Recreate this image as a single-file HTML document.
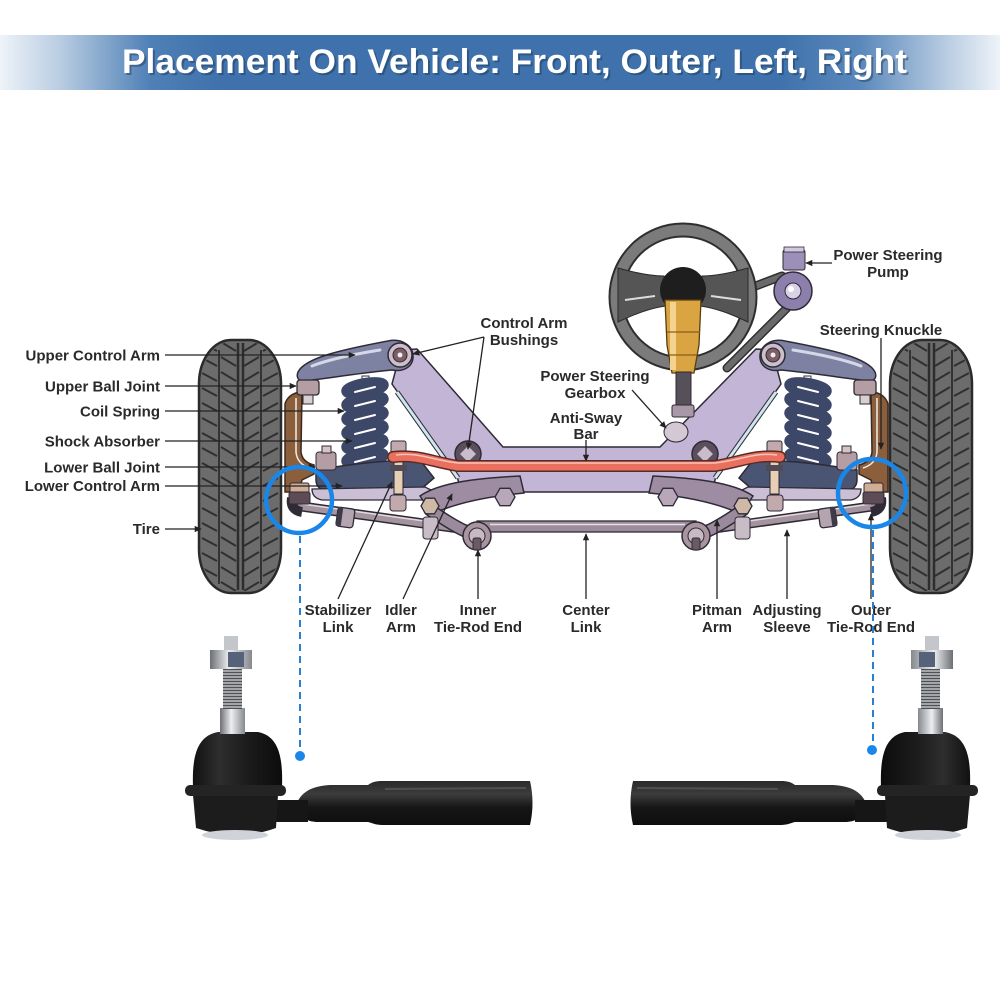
<!DOCTYPE html>
<html><head><meta charset="utf-8"><style>
html,body{margin:0;padding:0;background:#fff;}
svg{display:block;}
.lb{font-family:"Liberation Sans",Arial,sans-serif;font-weight:bold;font-size:15px;fill:#2a2a2a;}
</style></head><body>
<svg width="1000" height="1000" viewBox="0 0 1000 1000" xmlns="http://www.w3.org/2000/svg">
<defs>
<linearGradient id="ban" x1="0" y1="0" x2="1" y2="0">
<stop offset="0" stop-color="#eef3f8"/><stop offset="0.06" stop-color="#b9cde2"/><stop offset="0.15" stop-color="#4f80b6"/><stop offset="0.22" stop-color="#3f72ac"/><stop offset="0.78" stop-color="#3f72ac"/><stop offset="0.86" stop-color="#5a88bb"/><stop offset="0.95" stop-color="#bccfe3"/><stop offset="1" stop-color="#eef3f8"/>
</linearGradient>
<linearGradient id="silver" x1="0" y1="0" x2="1" y2="0">
<stop offset="0" stop-color="#6c6f74"/><stop offset="0.45" stop-color="#eceef1"/><stop offset="1" stop-color="#85888d"/>
</linearGradient>
<linearGradient id="blk" x1="0" y1="0" x2="0" y2="1">
<stop offset="0" stop-color="#2a2a2a"/><stop offset="0.3" stop-color="#3c3c3c"/><stop offset="0.6" stop-color="#161616"/><stop offset="1" stop-color="#0e0e0e"/>
</linearGradient>
<linearGradient id="dome" x1="0" y1="0" x2="1" y2="0">
<stop offset="0" stop-color="#111"/><stop offset="0.3" stop-color="#2e2e2e"/><stop offset="0.6" stop-color="#1c1c1c"/><stop offset="1" stop-color="#0c0c0c"/>
</linearGradient>
<pattern id="thr" x="0" y="667" width="10" height="3" patternUnits="userSpaceOnUse">
<rect width="10" height="3" fill="#a3a5a8"/><rect y="2" width="10" height="1" fill="#4e5053"/>
</pattern>
<pattern id="tread" x="199" y="340" width="82" height="15" patternUnits="userSpaceOnUse">
<path d="M3,3 L18,11 M22,2 L37,11 M79,3 L64,11 M60,2 L45,11" stroke="#2f2f2f" stroke-width="2" fill="none"/>
</pattern>
<marker id="ah" viewBox="0 0 10 10" refX="9" refY="5" markerWidth="9" markerHeight="7" markerUnits="userSpaceOnUse" orient="auto">
<path d="M0,0.5 L10,5 L0,9.5 Z" fill="#222"/>
</marker>

<g id="tire">
<rect x="199" y="340" width="82" height="253" rx="32" ry="44" fill="#6c6c6c" stroke="#2b2b2b" stroke-width="2.5"/>
<rect x="201" y="342" width="78" height="249" rx="30" ry="42" fill="url(#tread)"/>
<line x1="238" y1="343" x2="238" y2="590" stroke="#2d2d2d" stroke-width="2.5"/>
<line x1="243" y1="343" x2="243" y2="590" stroke="#2d2d2d" stroke-width="2.5"/>
<line x1="219" y1="350" x2="219" y2="584" stroke="#333" stroke-width="2"/>
<line x1="261" y1="350" x2="261" y2="584" stroke="#333" stroke-width="2"/>
</g>

<g id="susp">
 <path d="M285,404 Q288,394 300,392 L302,392 L301,452 Q302,462 314,465 L314,474 L302,480 L299,492 L285,492 Z" fill="#8b5e3c" stroke="#3b2a20" stroke-width="1.5"/>
 <path d="M296,398 L296,452 Q297,464 310,468" stroke="#f3efe8" stroke-width="1.5" fill="none"/>
 <path d="M298,372 C305,358 340,350 388,341 C402,338 414,346 413,358 C412,368 402,372 392,370 C360,373 330,378 304,381 C298,381 296,377 298,372 Z" fill="#7d82a2" stroke="#2f2a36" stroke-width="1.5"/>
 <path d="M312,366 C330,359 355,354 380,350" stroke="#d5d8e6" stroke-width="3" fill="none" stroke-linecap="round"/>
 <circle cx="400" cy="355" r="12" fill="#cdbfc9" stroke="#2f2a36" stroke-width="1.5"/>
 <circle cx="400" cy="355" r="7" fill="#7d5e66" stroke="#2f2a36"/>
 <circle cx="400" cy="355" r="2.5" fill="#eee"/>
 <rect x="297" y="380" width="22" height="15" rx="3" fill="#b59ea3" stroke="#2f2a36" stroke-width="1.3"/>
 <rect x="303" y="395" width="10" height="9" fill="#d7cfd2" stroke="#2f2a36"/>
 <rect x="362" y="376" width="7" height="34" fill="#f2f2f6" stroke="#3a3a44"/>
 <rect x="356" y="408" width="19" height="58" fill="#efb04b" stroke="#5c3d12" stroke-width="1.3"/>
 <rect x="360" y="410" width="4" height="54" fill="#fde2a8"/>
 <g fill="none" stroke="#3d4868" stroke-width="10">
  <ellipse cx="365" cy="388" rx="19" ry="5" transform="rotate(-10 365 388)"/>
  <ellipse cx="365" cy="402" rx="19" ry="5" transform="rotate(-10 365 402)"/>
  <ellipse cx="365" cy="416" rx="19" ry="5" transform="rotate(-10 365 416)"/>
  <ellipse cx="365" cy="430" rx="19" ry="5" transform="rotate(-10 365 430)"/>
  <ellipse cx="365" cy="444" rx="19" ry="5" transform="rotate(-10 365 444)"/>
  <ellipse cx="365" cy="458" rx="19" ry="5" transform="rotate(-10 365 458)"/>
 </g>
 <g fill="none" stroke="#ffffff" stroke-width="2" stroke-linecap="round">
  <path d="M355,392 L375,387"/><path d="M355,406 L375,401"/><path d="M355,420 L375,415"/>
  <path d="M355,434 L375,429"/><path d="M355,448 L375,443"/><path d="M355,462 L375,457"/>
 </g>
 <path d="M316,470 C345,465 385,460 420,460 L434,478 L420,490 L330,492 Q316,490 316,480 Z" fill="#4a5473" stroke="#2f2a36" stroke-width="1.5"/>
 <path d="M312,489 L425,487 L445,497 L435,500 L322,500 Q312,498 312,489 Z" fill="#cbbfd6" stroke="#2f2a36" stroke-width="1.3"/>
 <rect x="316" y="452" width="20" height="18" rx="3" fill="#b59ea3" stroke="#2f2a36"/>
 <rect x="322" y="446" width="9" height="7" fill="#d6c3c6" stroke="#2f2a36"/>
 <circle cx="468" cy="454" r="13" fill="#5b4f5e" stroke="#2f2a36" stroke-width="1.5"/>
 <path d="M468,446 L476,454 L468,462 L460,454 Z" fill="#c9bccb"/>
 <rect x="394" y="454" width="9" height="40" fill="#e6cfb2" stroke="#2f2a36"/>
 <rect x="391" y="441" width="15" height="13" rx="2" fill="#c2a9ad" stroke="#2f2a36"/>
 <rect x="390" y="465" width="17" height="6" fill="#4f4a55"/>
 <rect x="390" y="495" width="16" height="16" rx="3" fill="#c2a9ad" stroke="#2f2a36"/>
 <path d="M420,496 C440,482 480,478 520,476 L524,493 C492,496 458,502 432,514 Z" fill="#9e8ca3" stroke="#2f2a36" stroke-width="1.5"/>
 <polygon points="515,497 510,505.7 500,505.7 495,497 500,488.3 510,488.3" fill="#b7a7b9" stroke="#2f2a36" stroke-width="1.3"/>
 <path d="M298,506 L470,530" stroke="#2f2a36" stroke-width="10" stroke-linecap="round"/>
 <path d="M298,506 L470,530" stroke="#a4949f" stroke-width="7" stroke-linecap="round"/>
 <path d="M302,504 L468,527" stroke="#e2d9e0" stroke-width="1.5"/>
 <path d="M292,498 Q290,510 302,512" stroke="#2f2a36" stroke-width="10" fill="none"/>
 <rect x="290" y="483" width="19" height="10" rx="2" fill="#cfae95" stroke="#2f2a36"/>
 <rect x="289" y="492" width="21" height="12" rx="2" fill="#5d4c55" stroke="#2f2a36"/>
 <g transform="rotate(8 345 517)"><rect x="337" y="508" width="17" height="19" rx="3" fill="#b3a4b0" stroke="#2f2a36" stroke-width="1.3"/><rect x="337" y="508" width="5" height="19" fill="#3f3a48"/></g>
 <path d="M430,510 C445,520 460,530 477,536" stroke="#2f2a36" stroke-width="13" fill="none" stroke-linecap="round"/>
 <path d="M430,510 C445,520 460,530 477,536" stroke="#9a8a9c" stroke-width="10" fill="none" stroke-linecap="round"/>
 <rect x="423" y="517" width="15" height="22" rx="3" fill="#c8bcc6" stroke="#2f2a36"/>
 <polygon points="439,506 434.5,513.8 425.5,513.8 421,506 425.5,498.2 434.5,498.2" fill="#cdb9a6" stroke="#2f2a36" stroke-width="1.3"/>
 <circle cx="477" cy="536" r="14" fill="#a8959f" stroke="#2f2a36" stroke-width="1.5"/>
 <circle cx="477" cy="536" r="8" fill="#c9b9c3" stroke="#2f2a36"/>
 <rect x="473" y="538" width="8" height="12" rx="2" fill="#6a5a64" stroke="#2f2a36"/>
</g>

<g id="tre">
 <path d="M296,806 C300,792 312,786 330,785 L368,785 C372,782 376,781 382,781 L530,781 Q535,803 530,825 L382,825 C376,825 372,823 368,822 L318,822 C308,822 300,818 296,806 Z" fill="url(#blk)"/>
 <path d="M385,789 L526,788" stroke="#505050" stroke-width="2"/>
 <rect x="266" y="800" width="42" height="22" fill="#161616"/>
 <path d="M193,795 L278,795 L276,828 Q237,842 196,828 Z" fill="#1c1c1c"/>
 <ellipse cx="235" cy="835" rx="33" ry="5" fill="#cfd2d8"/>
 <path d="M193,787 C192,758 196,736 218,732 L258,732 C279,736 283,758 282,787 Z" fill="url(#dome)"/>
 <rect x="185" y="785" width="101" height="11" rx="5" fill="#242424"/>
 <rect x="220" y="708" width="25" height="26" fill="url(#silver)"/>
 <rect x="223" y="667" width="19" height="42" fill="url(#thr)"/>
 <path d="M210,650 L252,650 L252,669 L210,669 Z" fill="url(#silver)"/>
 <rect x="228" y="652" width="16" height="15" fill="#56627a"/>
 <rect x="224" y="636" width="14" height="14" fill="#c3c6cb"/>
</g>
</defs>

<rect width="1000" height="1000" fill="#fff"/>

<!-- banner -->
<rect x="0" y="35" width="1000" height="55" fill="url(#ban)"/>
<text x="124" y="75" textLength="785" lengthAdjust="spacingAndGlyphs" style="font-family:'Liberation Sans',Arial,sans-serif;font-weight:bold;font-size:34px;fill:#1c3450;opacity:0.45">Placement On Vehicle: Front, Outer, Left, Right</text>
<text x="122" y="73" textLength="785" lengthAdjust="spacingAndGlyphs" style="font-family:'Liberation Sans',Arial,sans-serif;font-weight:bold;font-size:34px;fill:#ffffff">Placement On Vehicle: Front, Outer, Left, Right</text>

<!-- steering wheel / pump -->
<path d="M740,292 L782,276" stroke="#2f2f2f" stroke-width="9" stroke-linecap="round"/>
<path d="M740,292 L782,276" stroke="#6a6a6a" stroke-width="6" stroke-linecap="round"/>
<path d="M787,308 L727,368" stroke="#2f2f2f" stroke-width="9" stroke-linecap="round"/>
<path d="M787,308 L727,368" stroke="#6a6a6a" stroke-width="6" stroke-linecap="round"/>
<circle cx="683" cy="297" r="67" fill="none" stroke="#2e2e2e" stroke-width="15"/>
<circle cx="683" cy="297" r="67" fill="none" stroke="#7b7b7b" stroke-width="11"/>
<path d="M664,276 C648,276 632,272 618,268 L618,322 C635,314 650,308 666,306 Z" fill="#555" stroke="#2a2a2a"/>
<path d="M702,276 C718,276 734,272 748,268 L748,322 C731,314 716,308 700,306 Z" fill="#555" stroke="#2a2a2a"/>
<path d="M625,300 L655,296 M741,300 L711,296" stroke="#ddd" stroke-width="2"/>
<circle cx="683" cy="290" r="23" fill="#1e1e1e"/>
<polygon points="665,300 701,300 699,345 694,373 672,373 667,345" fill="#d9a441" stroke="#5a3d10" stroke-width="1.3"/>
<rect x="670" y="302" width="6" height="68" fill="#f4d390"/>
<line x1="667" y1="332" x2="700" y2="332" stroke="#8a5e1c" stroke-width="1.3"/>
<line x1="669" y1="355" x2="697" y2="355" stroke="#8a5e1c" stroke-width="1.3"/>
<rect x="783" y="250" width="22" height="20" rx="2" fill="#9c8fb8" stroke="#2f2a36"/>
<rect x="784" y="247" width="20" height="5" fill="#d0c8e0" stroke="#2f2a36" stroke-width="0.8"/>
<circle cx="793" cy="291" r="19" fill="#8c7fab" stroke="#2f2a36" stroke-width="1.5"/>
<circle cx="793" cy="291" r="8" fill="#d9d2e6" stroke="#2f2a36"/>
<circle cx="791" cy="289" r="3" fill="#fff"/>

<!-- frame -->
<polygon points="392,384 401,350 417,349 503,447 660,447 756,349 772,350 781,384 716,476 712,492 461,492 457,476" fill="#c3b5d5" stroke="#2f2a36" stroke-width="1.5"/>
<path d="M397,392 L458,478 M776,392 L715,478" stroke="#2f2a36" stroke-width="5"/>
<path d="M397,392 L458,478 M776,392 L715,478" stroke="#cfe6ec" stroke-width="3"/>

<!-- lower column -->
<rect x="676" y="372" width="15" height="38" fill="#565058" stroke="#2f2a36"/>
<rect x="672" y="405" width="22" height="12" rx="2" fill="#a898a8" stroke="#2f2a36"/>
<ellipse cx="676" cy="432" rx="12" ry="10" fill="#d4c8d4" stroke="#2f2a36"/>

<!-- tires -->
<use href="#tire"/>
<use href="#tire" transform="translate(691,0)"/>

<!-- center link -->
<rect x="477" y="521" width="219" height="11" fill="#9b8b9b" stroke="#2f2a36" stroke-width="1.3"/>
<line x1="490" y1="524.5" x2="685" y2="524.5" stroke="#e6dde6" stroke-width="1.5"/>

<use href="#susp"/>
<use href="#susp" transform="translate(1173,0) scale(-1,1)"/>

<!-- anti-sway bar -->
<path d="M393,457 C418,454 432,462 458,466 L715,466 C741,462 755,454 780,457" stroke="#5a2a24" stroke-width="12" fill="none" stroke-linecap="round"/>
<path d="M393,457 C418,454 432,462 458,466 L715,466 C741,462 755,454 780,457" stroke="#e9705f" stroke-width="9" fill="none" stroke-linecap="round"/>
<path d="M396,455 C418,452 432,460 458,463 L715,463 C741,460 755,452 777,455" stroke="#f9c3b8" stroke-width="1.5" fill="none"/>

<!-- label lines -->
<g stroke="#222" stroke-width="1.3" fill="none">
<line x1="165" y1="355" x2="355" y2="355" marker-end="url(#ah)"/>
<line x1="165" y1="386" x2="296" y2="386" marker-end="url(#ah)"/>
<line x1="165" y1="411" x2="344" y2="411" marker-end="url(#ah)"/>
<line x1="165" y1="441" x2="352" y2="441" marker-end="url(#ah)"/>
<line x1="165" y1="467" x2="315" y2="467" marker-end="url(#ah)"/>
<line x1="165" y1="486" x2="342" y2="486" marker-end="url(#ah)"/>
<line x1="165" y1="529" x2="201" y2="529" marker-end="url(#ah)"/>
<line x1="484" y1="337" x2="413" y2="354" marker-end="url(#ah)"/>
<line x1="484" y1="337" x2="468" y2="449" marker-end="url(#ah)"/>
<line x1="632" y1="390" x2="666" y2="428" marker-end="url(#ah)"/>
<line x1="586" y1="440" x2="586" y2="461" marker-end="url(#ah)"/>
<line x1="881" y1="338" x2="881" y2="449" marker-end="url(#ah)"/>
<line x1="832" y1="263" x2="806" y2="263" marker-end="url(#ah)"/>
<line x1="338" y1="599" x2="392" y2="482" marker-end="url(#ah)"/>
<line x1="403" y1="599" x2="452" y2="494" marker-end="url(#ah)"/>
<line x1="478" y1="599" x2="478" y2="550" marker-end="url(#ah)"/>
<line x1="586" y1="599" x2="586" y2="534" marker-end="url(#ah)"/>
<line x1="717" y1="599" x2="717" y2="520" marker-end="url(#ah)"/>
<line x1="787" y1="599" x2="787" y2="530" marker-end="url(#ah)"/>
<line x1="871" y1="599" x2="871" y2="514" marker-end="url(#ah)"/>
</g>

<!-- labels -->
<g class="lb" text-anchor="end">
<text x="160" y="360.5" class="lb">Upper Control Arm</text>
<text x="160" y="391.5" class="lb">Upper Ball Joint</text>
<text x="160" y="416.5" class="lb">Coil Spring</text>
<text x="160" y="446.5" class="lb">Shock Absorber</text>
<text x="160" y="472.5" class="lb">Lower Ball Joint</text>
<text x="160" y="491" class="lb">Lower Control Arm</text>
<text x="160" y="534" class="lb">Tire</text>
</g>
<g text-anchor="middle">
<text x="524" y="328" class="lb">Control Arm</text>
<text x="524" y="345" class="lb">Bushings</text>
<text x="595" y="381" class="lb">Power Steering</text>
<text x="595" y="398" class="lb">Gearbox</text>
<text x="586" y="423" class="lb">Anti-Sway</text>
<text x="586" y="439" class="lb">Bar</text>
<text x="888" y="260" class="lb">Power Steering</text>
<text x="888" y="277" class="lb">Pump</text>
<text x="881" y="335" class="lb">Steering Knuckle</text>
<text x="338" y="615" class="lb">Stabilizer</text>
<text x="338" y="632" class="lb">Link</text>
<text x="401" y="615" class="lb">Idler</text>
<text x="401" y="632" class="lb">Arm</text>
<text x="478" y="615" class="lb">Inner</text>
<text x="478" y="632" class="lb">Tie-Rod End</text>
<text x="586" y="615" class="lb">Center</text>
<text x="586" y="632" class="lb">Link</text>
<text x="717" y="615" class="lb">Pitman</text>
<text x="717" y="632" class="lb">Arm</text>
<text x="787" y="615" class="lb">Adjusting</text>
<text x="787" y="632" class="lb">Sleeve</text>
<text x="871" y="615" class="lb">Outer</text>
<text x="871" y="632" class="lb">Tie-Rod End</text>
</g>

<!-- blue highlights -->
<circle cx="299" cy="500" r="33" fill="none" stroke="#1a87e8" stroke-width="4.5"/>
<circle cx="872" cy="493" r="34" fill="none" stroke="#1a87e8" stroke-width="4.5"/>
<line x1="300" y1="536" x2="300" y2="752" stroke="#2b7fd0" stroke-width="2" stroke-dasharray="7 5"/>
<circle cx="300" cy="756" r="5" fill="#1a87e8"/>
<line x1="873" y1="530" x2="873" y2="746" stroke="#2b7fd0" stroke-width="2" stroke-dasharray="7 5"/>
<circle cx="872" cy="750" r="5" fill="#1a87e8"/>

<!-- tie rod end photos -->
<use href="#tre"/>
<use href="#tre" transform="translate(1163,0) scale(-1,1)"/>
</svg>
</body></html>
